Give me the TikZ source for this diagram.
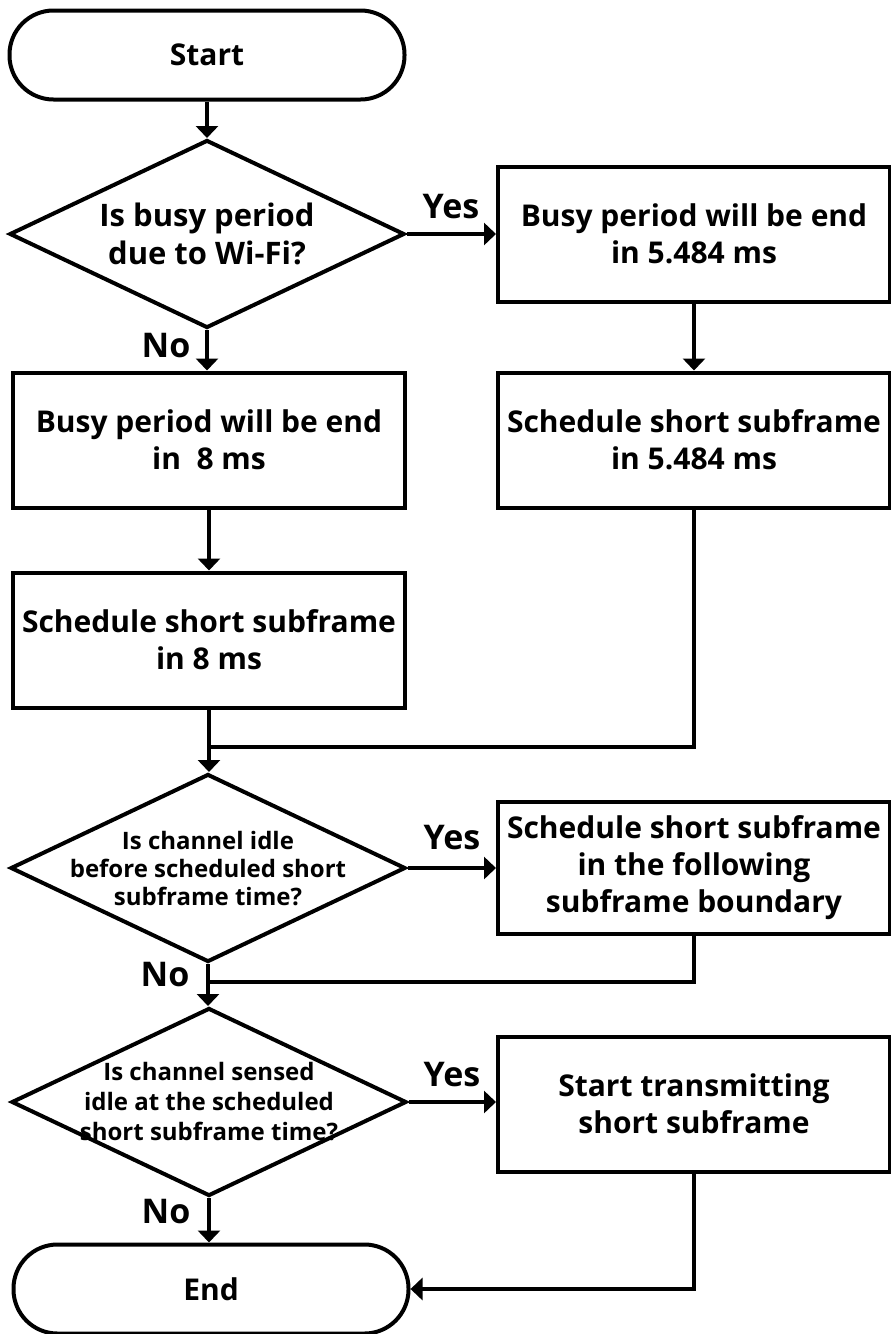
\documentclass[tikz,border=0pt]{standalone}
\usepackage{fontspec}
\setmainfont{Open Sans}
\usetikzlibrary{arrows.meta,shapes.geometric}

\tikzset{
  base/.style={draw, line width=4pt, inner sep=0pt, align=center,
    font=\bfseries\fontsize{30pt}{37pt}\selectfont},
  term/.style={base, rectangle, rounded corners=44pt,
    minimum width=395pt, minimum height=89pt},
  proc/.style={base, rectangle, minimum width=392pt, minimum height=135pt},
  decision/.style={base, diamond, minimum width=395pt, minimum height=188pt},
  qbig/.style={align=center, inner sep=0pt,
    font=\bfseries\fontsize{31pt}{38pt}\selectfont},
  qsmall/.style={align=center, inner sep=0pt,
    font=\bfseries\fontsize{24pt}{28pt}\selectfont},
  flow/.style={line width=4pt, -{Triangle[length=12pt,width=22pt]}},
  link/.style={line width=4pt},
  yn/.style={inner sep=0pt, font=\bfseries\fontsize{34pt}{40pt}\selectfont}
}

\begin{document}
\begin{tikzpicture}[x=1pt,y=-1pt]
  \useasboundingbox[fill=white] (0,0) rectangle (891,1334);

  % left column
  \node[term]     (start) at (207,55)   {Start};
  \node[decision] (d1)    at (207,234)  {};
  \node[qbig]     (d1t)   at (207,234)  {Is busy period\\due to Wi-Fi?};
  \node[proc]     (l1)    at (209,440)  {Busy period will be end\\in \ 8 ms};
  \node[proc]     (l2)    at (209,640)  {Schedule short subframe\\in 8 ms};
  \node[decision] (d2)    at (208,868)  {};
  \node[qsmall]   (d2t)   at (208,869)  {Is channel idle\\before scheduled short\\subframe time?};
  \node[decision] (d3)    at (209,1102) {};
  \node[qsmall, font=\bfseries\fontsize{24pt}{30pt}\selectfont]
                  (d3t)   at (209,1102) {Is channel sensed\\idle at the scheduled\\short subframe time?};
  \node[term]     (end)   at (211,1289) {End};

  % right column
  \node[proc] (r1) at (694,234)  {Busy period will be end\\in 5.484 ms};
  \node[proc] (r2) at (694,440)  {Schedule short subframe\\in 5.484 ms};
  \node[proc, minimum height=132pt]
              (r3) at (694,868)  {Schedule short subframe\\in the following\\subframe boundary};
  \node[proc] (r4) at (694,1104) {Start transmitting\\short subframe};

  % merge points on the left spine
  \coordinate (j1) at (209,747);
  \coordinate (j2) at (208,982);

  % connectors
  \draw[flow] (start.south) -- (start.south |- d1.north);
  \draw[flow] (d1.east) -- (d1.east -| r1.west);
  \draw[flow] (d1.south) -- (d1.south |- l1.north);
  \draw[flow] (r1.south) -- (r2.north);
  \draw[flow] (l1.south) -- (l2.north);
  \draw[flow] (l2.south) -- (l2.south |- d2.north);
  \draw[link] (r2.south) |- (j1);
  \draw[flow] (d2.east) -- (d2.east -| r3.west);
  \draw[flow] (d2.south) -- (d2.south |- d3.north);
  \draw[link] (r3.south) |- (j2);
  \draw[flow] (d3.east) -- (d3.east -| r4.west);
  \draw[flow] (d3.south) -- (d3.south |- end.north);
  \draw[flow] (r4.south) |- (end.east);

  % branch labels
  \node[yn] (y1) at (451,207)  {Yes};
  \node[yn] (n1) at (166,346)  {No};
  \node[yn] (y2) at (452,838)  {Yes};
  \node[yn] (n2) at (165,975)  {No};
  \node[yn] (y3) at (452,1075) {Yes};
  \node[yn] (n3) at (166,1212) {No};
\end{tikzpicture}
\end{document}
